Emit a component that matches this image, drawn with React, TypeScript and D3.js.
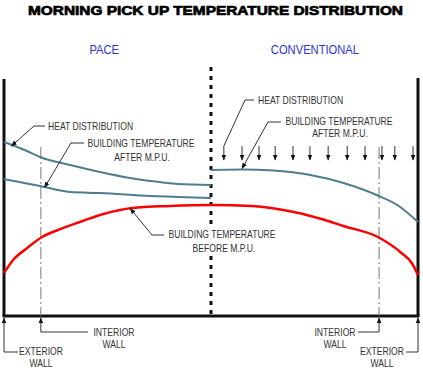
import React from 'react';
import * as d3 from 'd3';

// position across the building: 0 = left exterior wall, 50 = centre, 100 = right exterior wall
// relative temperature: 0 = floor line, 100 = top
const paceHeat = [
  [0, 69.6], [5, 66.4], [8.7, 63.6], [16, 60.4], [23.2, 57.6], [30.4, 55.2], [35.3, 54], [42, 52.8], [50, 52.4],
];
const paceAfter = [
  [0, 54.8], [8.7, 52], [16, 49.6], [23.2, 49.2], [35.3, 48], [42, 47.6], [50, 47.2],
];
const convAfter = [
  [50, 58.4], [57.7, 58.6], [65, 58.2], [74, 56.4], [82, 53.2], [90, 48.4], [95, 44.4], [100, 37.6],
];
const beforeMpu = [
  [0, 17.2], [2.2, 22.4], [5.6, 27.2], [9.2, 31.6], [13, 34.4], [19, 38], [24, 40.8], [31, 43.2], [40, 44],
  [50, 44.4], [60, 44], [70, 41.6], [77.5, 38.4], [82, 36], [90.3, 31.6], [96, 25.2], [98.5, 21.2], [100, 16.4],
];
const heatArrowsX = [53.1, 57.5, 61.6, 65.5, 69.8, 73.9, 78.3, 82.9, 87.2, 91.3, 94.4, 98.8];
const heatArrowTop = 68;
const heatArrowBottom = 62.4;
const interiorWalls = [8.9, 90.6];
const sections = ['PACE', 'CONVENTIONAL'];
const title = 'MORNING PICK UP TEMPERATURE DISTRIBUTION';

const W = 423;
const H = 375;

function Label({ x, y, children, anchor = 'start' }: { x: number; y: number; children: string; anchor?: string }) {
  // narrow face: squeeze a regular sans horizontally
  return (
    <text transform={`translate(${x},${y}) scale(0.86,1)`} textAnchor={anchor}>
      {children}
    </text>
  );
}

export default function App() {
  const x = d3.scaleLinear().domain([0, 100]).range([4, 418]);
  const y = d3.scaleLinear().domain([0, 100]).range([316, 66]);
  const line = d3
    .line<number[]>()
    .x(d => x(d[0]))
    .y(d => y(d[1]))
    .curve(d3.curveMonotoneX);

  const blue = '#4e7d8f';
  const ink = '#333';
  const font = '"Liberation Sans", Arial, sans-serif';
  const leader = (pts: [number, number][]) => d3.line()(pts) as string;

  return (
    <svg width={W} height={H} style={{ position: 'absolute', left: 0, top: 0, background: '#fff' }}>
      <defs>
        <marker id="ah" viewBox="0 0 10 10" refX="9" refY="5" markerWidth="6" markerHeight="6" orient="auto-start-reverse">
          <path d="M0,1 L10,5 L0,9 z" fill="#111" />
        </marker>
      </defs>

      <text x={28} y={15} fontFamily={font} fontWeight={700} fontSize={13} stroke="#000" strokeWidth={0.7}
        fill="#000" textLength={375} lengthAdjust="spacingAndGlyphs">{title}</text>

      <g fontFamily={font} fontSize={13} fill="#2f2fd6">
        {sections.map((s, i) => (
          <Label key={s} x={x(i === 0 ? 24.2 : 75.1)} y={54} anchor="middle">{s}</Label>
        ))}
      </g>

      {/* walls */}
      <line x1={x(0)} x2={x(0)} y1={79} y2={y(0)} stroke="#111" strokeWidth={3} />
      <line x1={x(100)} x2={x(100)} y1={78} y2={y(0)} stroke="#111" strokeWidth={3} />
      <line x1={x(0) - 1.5} x2={x(100) + 1.5} y1={y(0)} y2={y(0)} stroke="#111" strokeWidth={3} />
      <line x1={x(50)} x2={x(50)} y1={67} y2={y(0)} stroke="#111" strokeWidth={3} strokeDasharray="4,5" />
      {interiorWalls.map(w => (
        <line key={w} x1={x(w)} x2={x(w)} y1={147} y2={y(0)} stroke="#777" strokeWidth={1} strokeDasharray="12,3,2,3" />
      ))}

      {/* curves */}
      <path d={line(paceHeat as any) as string} fill="none" stroke={blue} strokeWidth={2} />
      <path d={line(paceAfter as any) as string} fill="none" stroke={blue} strokeWidth={2} />
      <path d={line(convAfter as any) as string} fill="none" stroke={blue} strokeWidth={2} />
      <path d={line(beforeMpu as any) as string} fill="none" stroke="#ff0000" strokeWidth={2.5} />

      {/* conventional heat arrows */}
      {heatArrowsX.map(a => (
        <line key={a} x1={x(a)} x2={x(a)} y1={y(heatArrowTop)} y2={y(heatArrowBottom)} stroke="#333" strokeWidth={1} markerEnd="url(#ah)" />
      ))}

      <g fontFamily={font} fontSize={10} fill={ink}>
        {/* PACE labels */}
        <Label x={48} y={130}>HEAT DISTRIBUTION</Label>
        <path d={leader([[45, 126], [34, 126], [x(1.8), y(68)]])} fill="none" stroke={ink} strokeWidth={1} markerEnd="url(#ah)" />
        <Label x={141} y={147} anchor="middle">BUILDING TEMPERATURE</Label>
        <Label x={142} y={161} anchor="middle">AFTER M.P.U.</Label>
        <path d={leader([[84, 143], [71, 143], [x(9.8), y(51.4)]])} fill="none" stroke={ink} strokeWidth={1} markerEnd="url(#ah)" />

        {/* CONVENTIONAL labels */}
        <Label x={258} y={104}>HEAT DISTRIBUTION</Label>
        <path d={leader([[254, 100], [245, 100], [x(heatArrowsX[0]), y(heatArrowTop)]])} fill="none" stroke={ink} strokeWidth={1} />
        <Label x={339} y={125} anchor="middle">BUILDING TEMPERATURE</Label>
        <Label x={340} y={137} anchor="middle">AFTER M.P.U.</Label>
        <path d={leader([[281, 122], [268, 122], [x(57.5), y(59)]])} fill="none" stroke={ink} strokeWidth={1} markerEnd="url(#ah)" />

        <rect x={166} y={226} width={114} height={30} fill="#fff" />
        <Label x={222} y={238} anchor="middle">BUILDING TEMPERATURE</Label>
        <Label x={224} y={252} anchor="middle">BEFORE  M.P.U.</Label>
        <path d={leader([[164, 235], [152, 235], [x(30.5), y(43)]])} fill="none" stroke={ink} strokeWidth={1} markerEnd="url(#ah)" />

        {/* wall labels */}
        <Label x={114} y={336} anchor="middle">INTERIOR</Label>
        <Label x={114} y={348} anchor="middle">WALL</Label>
        <path d={leader([[88, 332], [x(interiorWalls[0]), 332], [x(interiorWalls[0]), y(0) + 2]])} fill="none" stroke={ink} strokeWidth={1} markerEnd="url(#ah)" />
        <Label x={41} y={355} anchor="middle">EXTERIOR</Label>
        <Label x={41} y={367} anchor="middle">WALL</Label>
        <path d={leader([[18, 352], [x(0), 352], [x(0), y(0) + 2]])} fill="none" stroke={ink} strokeWidth={1} markerEnd="url(#ah)" />

        <Label x={335} y={336} anchor="middle">INTERIOR</Label>
        <Label x={335} y={348} anchor="middle">WALL</Label>
        <path d={leader([[358, 332], [x(interiorWalls[1]), 332], [x(interiorWalls[1]), y(0) + 2]])} fill="none" stroke={ink} strokeWidth={1} markerEnd="url(#ah)" />
        <Label x={382} y={355} anchor="middle">EXTERIOR</Label>
        <Label x={382} y={367} anchor="middle">WALL</Label>
        <path d={leader([[406, 352], [x(100), 352], [x(100), y(0) + 2]])} fill="none" stroke={ink} strokeWidth={1} markerEnd="url(#ah)" />
      </g>
    </svg>
  );
}
